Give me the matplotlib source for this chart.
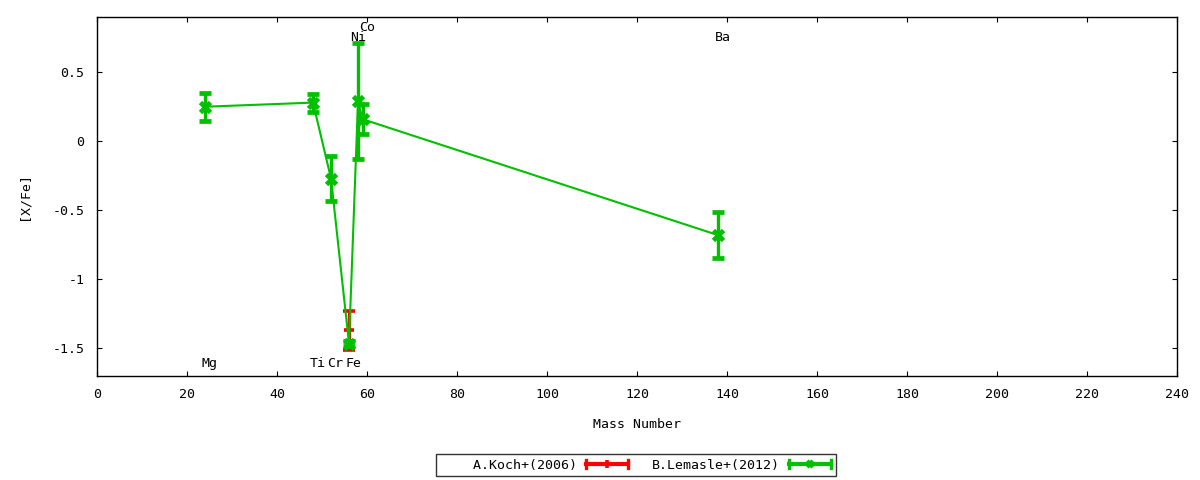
import matplotlib
matplotlib.use('Agg')
import matplotlib.pyplot as plt
from matplotlib.lines import Line2D
from matplotlib.legend_handler import HandlerBase
from matplotlib.ticker import MultipleLocator

plt.rcParams['font.family'] = 'DejaVu Sans Mono'
plt.rcParams['font.size'] = 9.5

# A.Koch+(2006)
koch_mass = [56]
koch_xfe = [-1.37]
koch_err = [0.14]

# B.Lemasle+(2012)
lemasle_mass = [24, 48, 52, 56, 58, 59, 138]
lemasle_xfe = [0.25, 0.28, -0.27, -1.465, 0.29, 0.16, -0.68]
lemasle_err = [0.10, 0.065, 0.16, 0.02, 0.42, 0.11, 0.165]

# element labels
label_x = [25, 49, 53, 57, 58, 60, 139]
label_y = [-1.61, -1.61, -1.61, -1.61, 0.75, 0.825, 0.75]
label_txt = ['Mg', 'Ti', 'Cr', 'Fe', 'Ni', 'Co', 'Ba']


class ErrHandler(HandlerBase):
    # gnuplot style key sample: horizontal bar with end caps and a point
    def __init__(self, color, marker, ms, mew):
        super().__init__()
        self.color = color
        self.marker = marker
        self.ms = ms
        self.mew = mew

    def create_artists(self, legend, orig_handle, xdescent, ydescent,
                       width, height, fontsize, trans):
        y = height / 2 - ydescent
        x0, x1 = -xdescent, width - xdescent
        h = 2.8
        arts = [
            Line2D([x0, x1], [y, y], color=self.color, lw=3),
            Line2D([x0, x0], [y - h, y + h], color=self.color, lw=2.4),
            Line2D([x1, x1], [y - h, y + h], color=self.color, lw=2.4),
            Line2D([(x0 + x1) / 2], [y], color=self.color, marker=self.marker,
                   ms=self.ms, mew=self.mew, lw=0),
        ]
        for a in arts:
            a.set_transform(trans)
        return arts


fig = plt.figure(figsize=(12, 4.8), dpi=100)
ax = fig.add_axes([0.0808, 0.2167, 0.9002, 0.7479])

koch = ax.errorbar(koch_mass, koch_xfe, yerr=koch_err, color='#ff0000', lw=1.5,
                   elinewidth=2.4, capsize=4, capthick=2.4, marker='+', ms=7, mew=2.6,
                   label='    A.Koch+(2006)')
lem = ax.errorbar(lemasle_mass, lemasle_xfe, yerr=lemasle_err, color='#00c000', lw=1.5,
                  elinewidth=2.4, capsize=4, capthick=2.4, marker='x', ms=6.5, mew=3.4,
                  label='B.Lemasle+(2012)')

for x, y, t in zip(label_x, label_y, label_txt):
    ax.text(x, y, t, ha='center', va='center', fontsize=9.5)

ax.set_xlim(0, 240)
ax.set_ylim(-1.7, 0.9)
ax.xaxis.set_major_locator(MultipleLocator(20))
ax.set_yticks([-1.5, -1, -0.5, 0, 0.5])
ax.set_yticklabels(['-1.5', '-1', '-0.5', '0', '0.5'])
ax.tick_params(direction='in', top=True, right=True, length=3.5)
ax.tick_params(axis='x', pad=9)
ax.tick_params(axis='y', pad=9)
for s in ax.spines.values():
    s.set_linewidth(1.0)

ax.set_xlabel('Mass Number', labelpad=12)
ax.set_ylabel('[X/Fe]', labelpad=16)

leg = fig.legend(handles=[koch, lem], loc='center', bbox_to_anchor=(0.53, 0.031), ncol=2,
                 markerfirst=False, frameon=True, fancybox=False,
                 edgecolor='black', handlelength=3.2, columnspacing=1.8,
                 borderpad=0.35, handletextpad=0.7,
                 handler_map={koch: ErrHandler('#ff0000', '+', 6, 2.6),
                              lem: ErrHandler('#00c000', 'x', 5, 3.2)})
leg.get_frame().set_linewidth(1.0)

fig.savefig('out.png', dpi=100)
